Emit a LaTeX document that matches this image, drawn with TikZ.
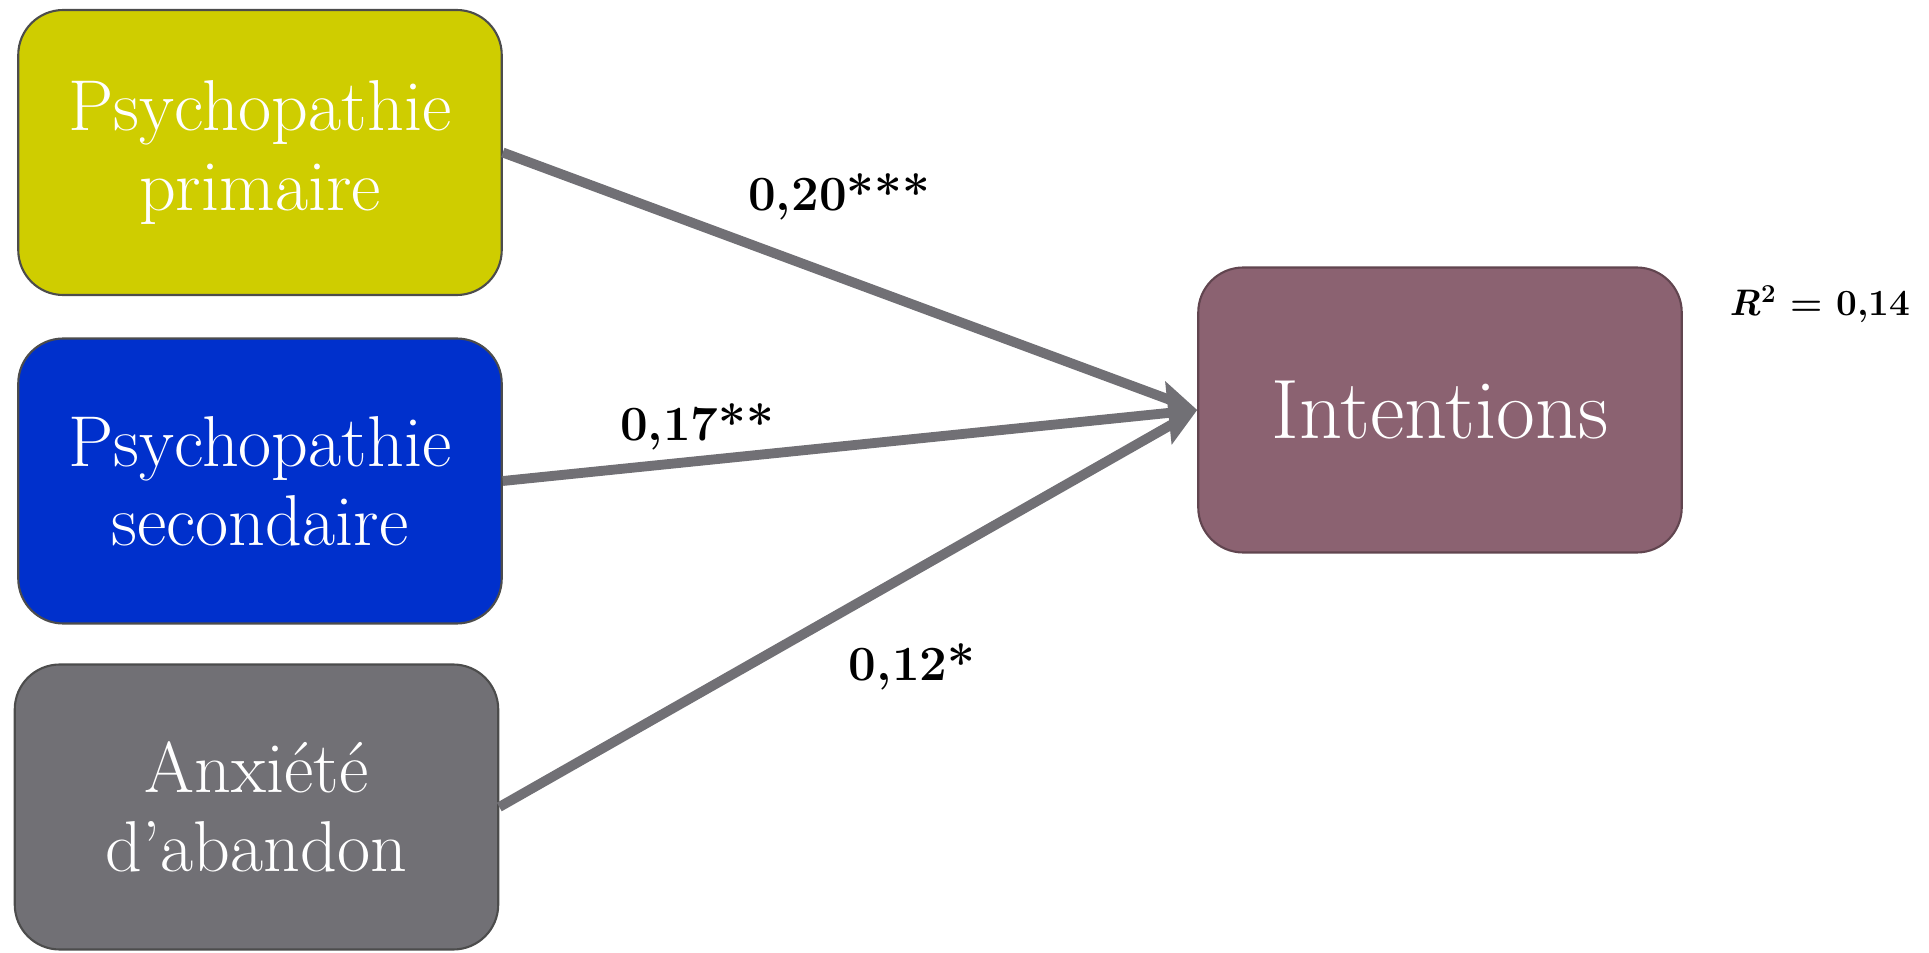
\documentclass[tikz,border=0pt]{standalone}
\usepackage{fontspec}
\usepackage[]{xcolor}
\usetikzlibrary{arrows.meta}

\definecolor{primcol}{RGB}{207,205,0}
\definecolor{seccol}{RGB}{0,48,204}
\definecolor{anxcol}{RGB}{113,112,117}
\definecolor{intcol}{RGB}{139,98,113}
\definecolor{pathcol}{RGB}{113,112,117}

\tikzset{
  predbox/.style={draw=black!70, line width=1.2pt, rounded corners=0.9cm,
    minimum width=9.67cm, minimum height=5.7cm, text=white, align=center,
    font=\fontsize{41}{45}\selectfont},
  coef/.style={font=\fontsize{28}{32}\selectfont\bfseries},
  path/.style={draw=pathcol, line width=5.6pt}
}

\begin{document}
\begin{tikzpicture}
    \useasboundingbox (0,0) rectangle (38.58,19.04);
    % predicteurs
    \node[predbox, fill=primcol] (prim) at (5.2,15.99) {Psychopathie\\primaire};
    \node[predbox, fill=seccol]  (sec)  at (5.2,9.42)  {Psychopathie\\secondaire};
    \node[predbox, fill=anxcol]  (anx)  at (5.13,2.9)  {Anxiété\\d’abandon};
    % variable dependante
    \node[predbox, fill=intcol, draw=intcol!70!black,
          font=\fontsize{48}{52}\selectfont] (int) at (28.8,10.84) {Intentions};
    % chemins
    \draw[path, shorten >=0.3cm] (prim.east) -- (int.west);
    \draw[path, shorten >=0.3cm] (anx.east) -- (int.west);
    \draw[path, -{Triangle[length=0.58cm,width=1.25cm]}] (sec.east) -- (int.west);
    % coefficients
    \node[coef] (c1) at (16.78,15.1) {0,20***};
    \node[coef] (c2) at (13.94,10.5) {0,17**};
    \node[coef] (c3) at (18.24,5.7)  {0,12*};
    \node[font=\fontsize{21}{24}\selectfont\bfseries] (r2) at (36.4,12.96)
        {\textit{R}\textsuperscript{2} = 0,14};
\end{tikzpicture}
\end{document}
